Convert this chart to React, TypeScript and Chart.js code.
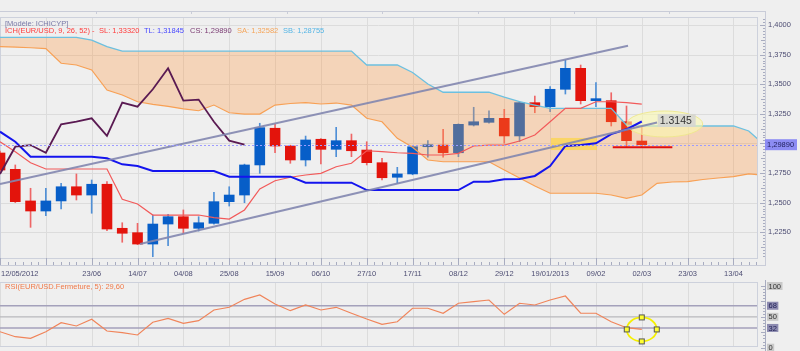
import React, { useEffect, useRef } from 'react';
import { Chart, registerables } from 'chart.js';

Chart.register(...registerables);

// ---------- DATA ----------
const weekTicks = [0, 3, 6, 9, 12, 15, 18, 21, 24, 27, 30, 33, 36, 39, 42, 45, 48];
const weekTickLabels = ['12/05/2012', '', '23/06', '14/07', '04/08', '25/08', '15/09', '06/10', '27/10', '17/11', '08/12', '29/12', '19/01/2013', '09/02', '02/03', '23/03', '13/04'];

const priceGridValues = [1.225, 1.25, 1.275, 1.3, 1.325, 1.35, 1.375, 1.4];
const priceLabelValues = [1.4, 1.375, 1.35, 1.325, 1.275, 1.25, 1.225];
const priceLabels = ['1,4000', '1,3750', '1,3500', '1,3250', '1,2750', '1,2500', '1,2250'];

const opens = [1.2919, 1.2781, 1.2514, 1.2429, 1.2514, 1.2634, 1.2564, 1.2655, 1.2283, 1.2246, 1.2150, 1.2319, 1.2381, 1.2283, 1.2325, 1.2508, 1.2564, 1.2818, 1.3128, 1.2978, 1.2860, 1.3035, 1.2950, 1.3023, 1.2944, 1.2837, 1.2714, 1.2742, 1.2972, 1.2986, 1.2921, 1.3155, 1.3178, 1.3212, 1.3063, 1.3344, 1.3310, 1.3457, 1.3634, 1.3361, 1.3361, 1.3183, 1.3020];
const highs = [1.2935, 1.2818, 1.2621, 1.2621, 1.2663, 1.2742, 1.2691, 1.2677, 1.2330, 1.2325, 1.2395, 1.2401, 1.2438, 1.2381, 1.2587, 1.2634, 1.2825, 1.3170, 1.3164, 1.2985, 1.3062, 1.3040, 1.3136, 1.3079, 1.3014, 1.2874, 1.2798, 1.2980, 1.3023, 1.3119, 1.3165, 1.3305, 1.3276, 1.3288, 1.3352, 1.3400, 1.3479, 1.3704, 1.3662, 1.3513, 1.3428, 1.3316, 1.3136];
const lows = [1.2765, 1.2500, 1.2291, 1.2389, 1.2446, 1.2522, 1.2410, 1.2263, 1.2165, 1.2145, 1.2043, 1.2136, 1.2241, 1.2260, 1.2317, 1.2471, 1.2499, 1.2747, 1.2921, 1.2832, 1.2809, 1.2826, 1.2888, 1.2888, 1.2818, 1.2691, 1.2663, 1.2735, 1.2883, 1.2883, 1.2888, 1.3147, 1.3170, 1.3001, 1.3015, 1.3259, 1.3268, 1.3417, 1.3333, 1.3310, 1.3147, 1.2967, 1.2967];
const closes = [1.2775, 1.2508, 1.2429, 1.2514, 1.2634, 1.2564, 1.2655, 1.2277, 1.2241, 1.2150, 1.2319, 1.2381, 1.2283, 1.2330, 1.2508, 1.2564, 1.2818, 1.3133, 1.2978, 1.2860, 1.3029, 1.2950, 1.3023, 1.2938, 1.2837, 1.2710, 1.2742, 1.2972, 1.2986, 1.2921, 1.3161, 1.3183, 1.3212, 1.3063, 1.3344, 1.3310, 1.3457, 1.3634, 1.3361, 1.3370, 1.3183, 1.3023, 1.2989];

// Standard line (SL, red) and turning line (TL, blue)
const standardLine = [1.3014, 1.2930, 1.2837, 1.2784, 1.2784, 1.2784, 1.2784, 1.2784, 1.2528, 1.2488, 1.2395, 1.2395, 1.2395, 1.2395, 1.2373, 1.2361, 1.2438, 1.2615, 1.2685, 1.2714, 1.2733, 1.2747, 1.2803, 1.2832, 1.2938, 1.2930, 1.2921, 1.2916, 1.2902, 1.2902, 1.2916, 1.2978, 1.2986, 1.2986, 1.3020, 1.3071, 1.3183, 1.3296, 1.3296, 1.3352, 1.3352, 1.3344, 1.3332];
const turningLine = [1.3099, 1.3014, 1.2888, 1.2888, 1.2888, 1.2888, 1.2888, 1.2874, 1.2823, 1.2809, 1.2767, 1.2767, 1.2767, 1.2767, 1.2767, 1.2719, 1.2719, 1.2719, 1.2719, 1.2719, 1.2668, 1.2668, 1.2668, 1.2668, 1.2606, 1.2606, 1.2606, 1.2606, 1.2606, 1.2606, 1.2606, 1.2677, 1.2677, 1.2697, 1.2700, 1.2725, 1.2809, 1.2978, 1.2986, 1.3001, 1.3079, 1.3119, 1.3185];

// Senkou spans (cloud), plotted 26 weeks ahead
const senkouA = [1.3817, 1.3814, 1.3808, 1.3800, 1.3677, 1.3662, 1.3620, 1.3451, 1.3409, 1.3352, 1.3330, 1.3312, 1.3291, 1.3276, 1.3324, 1.3259, 1.3248, 1.3248, 1.3324, 1.3337, 1.3344, 1.3333, 1.3341, 1.3324, 1.3212, 1.3183, 1.3043, 1.2967, 1.2860, 1.2845, 1.2845, 1.2845, 1.2845, 1.2775, 1.2708, 1.2640, 1.2579, 1.2579, 1.2579, 1.2579, 1.2564, 1.2536, 1.2564, 1.2663, 1.2674, 1.2677, 1.2695, 1.2708, 1.2719, 1.2742, 1.2733];
const senkouB = [1.3896, 1.3896, 1.3896, 1.3896, 1.3896, 1.3896, 1.3873, 1.3818, 1.3780, 1.3780, 1.3780, 1.3780, 1.3780, 1.3780, 1.3780, 1.3780, 1.3780, 1.3780, 1.3780, 1.3780, 1.3780, 1.3780, 1.3780, 1.3780, 1.3662, 1.3662, 1.3662, 1.3599, 1.3502, 1.3432, 1.3432, 1.3432, 1.3432, 1.3390, 1.3352, 1.3324, 1.3296, 1.3296, 1.3296, 1.3296, 1.3296, 1.3155, 1.3147, 1.3147, 1.3147, 1.3147, 1.3147, 1.3147, 1.3147, 1.3105, 1.2990];

// Lagging span: close shifted 26 weeks back
const chikouShift = 26;

const rsiValues = [25.9, 17.8, 15.2, 25.9, 40.5, 35.2, 46.0, 27.1, 24.3, 20.6, 41.2, 47.6, 39.5, 43.8, 61.1, 65.5, 78.4, 85.4, 70.8, 60.0, 69.2, 61.1, 65.5, 55.8, 46.5, 37.9, 42.1, 63.9, 63.9, 55.8, 72.0, 74.6, 77.3, 54.1, 72.0, 69.2, 77.3, 83.8, 55.8, 55.8, 42.1, 32.4, 29.6];
const rsiLevels = [68, 50, 32];
const rsiLabelValues = [100, 68, 50, 32, 0];

// Drawn objects
const trendUpper = [{ x: 0, y: 1.2657 }, { x: 41.1, y: 1.3825 }];
const trendLower = [{ x: 9.16, y: 1.2150 }, { x: 43.0, y: 1.3176 }];
const supportLine = [{ x: 40.1, y: 1.2967 }, { x: 44.0, y: 1.2967 }];
const zoneWeeks = [36.06, 39.07];
const zonePrices = [1.2944, 1.3046];
const targetPoint = { x: 43.5, y: 1.3164 };
const targetText = '1.3145';
const rsiMarkPoint = { x: 42, y: 29.6 };
const lastClose = 1.2989;
const lastCloseText = '1,29890';

const legendTitle = '[Modèle: ICHICYP]';
const legendItems = [
  { text: 'ICH(EUR/USD, 9, 26, 52) -', color: '#ff3b3b', x: 5 },
  { text: 'SL: 1,33320', color: '#ff3b3b', x: 99 },
  { text: 'TL: 1,31845', color: '#4848ff', x: 144 },
  { text: 'CS: 1,29890', color: '#7a3a72', x: 190 },
  { text: 'SA: 1,32582', color: '#f5a55a', x: 237 },
  { text: 'SB: 1,28755', color: '#55b5e5', x: 283 },
];
const rsiLegend = 'RSI(EUR/USD.Fermeture, 5): 29,60';

const X_MAX = 49.54;
const FONT = '"Liberation Sans", Arial, sans-serif';
const AXIS_TEXT = '#4d4d73';

// ---------- helpers ----------
function hline(ctx: CanvasRenderingContext2D, x0: number, x1: number, y: number) {
  ctx.beginPath(); ctx.moveTo(x0, y); ctx.lineTo(x1, y); ctx.stroke();
}
function vline(ctx: CanvasRenderingContext2D, x: number, y0: number, y1: number) {
  ctx.beginPath(); ctx.moveTo(x, y0); ctx.lineTo(x, y1); ctx.stroke();
}

const mainDecor = {
  id: 'mainDecor',
  beforeDraw(chart: any) {
    const { ctx, chartArea: a } = chart;
    const xs = chart.scales.x, ys = chart.scales.y;
    ctx.save();
    ctx.fillStyle = '#efefef';
    ctx.fillRect(0, 0, chart.width, chart.height);
    // grid
    ctx.strokeStyle = '#dcdcdc';
    ctx.lineWidth = 1;
    priceGridValues.forEach((p) => hline(ctx, a.left, a.right, Math.round(ys.getPixelForValue(p)) + 0.5));
    weekTicks.forEach((w) => vline(ctx, Math.round(xs.getPixelForValue(w)) + 0.5, a.top, a.bottom));
    // frames
    ctx.strokeStyle = '#c9ccd8';
    hline(ctx, 0, 766, 11.5);
    for (let k = 1; k * 95.6 < 766; k++) vline(ctx, Math.round(k * 95.6) + 0.5, 11, 14);
    vline(ctx, 765.5, 11, 266);
    hline(ctx, 0, 766, 265.5);
    ctx.strokeStyle = '#cdd1dc';
    ctx.strokeRect(a.left + 0.5, a.top + 0.5, a.right - a.left, a.bottom - a.top);
    ctx.restore();
  },
  afterDatasetDraw(chart: any, args: any) {
    if (chart.data.datasets[args.index].label !== 'SB') return;
    const { ctx } = chart;
    const xs = chart.scales.x, ys = chart.scales.y;
    ctx.save();
    // yellow zone
    const x0 = xs.getPixelForValue(zoneWeeks[0]), x1 = xs.getPixelForValue(zoneWeeks[1]);
    const y0 = ys.getPixelForValue(zonePrices[1]), y1 = ys.getPixelForValue(zonePrices[0]);
    ctx.fillStyle = 'rgba(252,214,70,0.72)';
    ctx.fillRect(x0, y0, x1 - x0, y1 - y0);
    // ellipse
    const cx = xs.getPixelForValue(targetPoint.x), cy = ys.getPixelForValue(targetPoint.y);
    ctx.beginPath();
    ctx.ellipse(cx, cy, 38, 13, 0, 0, Math.PI * 2);
    ctx.fillStyle = 'rgba(250,248,175,0.6)';
    ctx.fill();
    ctx.strokeStyle = 'rgba(238,232,140,0.9)';
    ctx.lineWidth = 1;
    ctx.stroke();
    ctx.restore();
  },
  afterDatasetsDraw(chart: any) {
    const { ctx, chartArea: a } = chart;
    const ys = chart.scales.y;
    ctx.save();
    ctx.strokeStyle = '#9c9cff';
    ctx.lineWidth = 1;
    ctx.setLineDash([2, 2]);
    hline(ctx, a.left, a.right, Math.round(ys.getPixelForValue(lastClose)) + 0.5);
    ctx.restore();
  },
  afterDraw(chart: any) {
    const { ctx, chartArea: a } = chart;
    const xs = chart.scales.x, ys = chart.scales.y;
    ctx.save();
    // right axis ticks
    ctx.strokeStyle = '#a8acc0';
    ctx.lineWidth = 1;
    for (let k = 0; ; k++) {
      const p = 1.205 + k * 0.0025;
      if (p > 1.407) break;
      const py = Math.round(ys.getPixelForValue(p)) + 0.5;
      const isMajor = Math.abs((p * 1000) % 25) < 0.01 || Math.abs((p * 1000) % 25 - 25) < 0.01;
      const isMid = Math.abs((p * 10000) % 125) < 0.1 || Math.abs((p * 10000) % 125 - 125) < 0.1;
      const len = isMajor ? 5 : isMid ? 4 : 2;
      hline(ctx, 765 - len, 765, py);
    }
    // x ruler ticks
    for (let k = 0; k * 0.5 <= X_MAX; k++) {
      const px = Math.round(xs.getPixelForValue(k * 0.5)) + 0.5;
      vline(ctx, px, 262, 265);
    }
    weekTicks.forEach((w) => vline(ctx, Math.round(xs.getPixelForValue(w)) + 0.5, a.bottom, 265));
    // price labels
    ctx.font = `7.5px ${FONT}`;
    ctx.fillStyle = AXIS_TEXT;
    ctx.textBaseline = 'middle';
    ctx.textAlign = 'left';
    priceLabelValues.forEach((p, i) => ctx.fillText(priceLabels[i], 768, ys.getPixelForValue(p)));
    // last price box
    const ly = ys.getPixelForValue(lastClose);
    ctx.fillStyle = '#8c8cf3';
    ctx.fillRect(765, ly - 5.5, 32, 11);
    ctx.fillStyle = '#1e1e5a';
    ctx.fillText(lastCloseText, 767, ly + 0.5);
    // x labels
    ctx.fillStyle = AXIS_TEXT;
    weekTicks.forEach((w, i) => {
      const t = weekTickLabels[i];
      if (!t) return;
      const px = xs.getPixelForValue(w);
      if (i === 0) { ctx.textAlign = 'left'; ctx.fillText(t, 1, 274); }
      else { ctx.textAlign = 'center'; ctx.fillText(t, px, 274); }
    });
    // legend
    ctx.textAlign = 'left';
    ctx.fillStyle = '#7a7aa8';
    ctx.fillText(legendTitle, 5, 23.5);
    legendItems.forEach((it) => { ctx.fillStyle = it.color; ctx.fillText(it.text, it.x, 31); });
    // target label
    const cx = xs.getPixelForValue(targetPoint.x), cy = ys.getPixelForValue(targetPoint.y);
    ctx.fillStyle = 'rgba(214,214,210,0.9)';
    ctx.fillRect(cx - 7, cy - 10, 38, 13);
    ctx.font = `10.5px ${FONT}`;
    ctx.fillStyle = '#333333';
    ctx.textAlign = 'left';
    ctx.fillText(targetText, cx - 5, cy - 3.2);
    ctx.restore();
  },
};

const rsiDecor = {
  id: 'rsiDecor',
  beforeDraw(chart: any) {
    const { ctx, chartArea: a } = chart;
    const xs = chart.scales.x, ys = chart.scales.y;
    ctx.save();
    ctx.fillStyle = '#efefef';
    ctx.fillRect(0, 0, chart.width, chart.height);
    ctx.strokeStyle = '#dcdcdc';
    ctx.lineWidth = 1;
    weekTicks.forEach((w) => vline(ctx, Math.round(xs.getPixelForValue(w)) + 0.5, 3, 67));
    ctx.strokeStyle = '#cdd1dc';
    hline(ctx, 0, 758, 2.5);
    hline(ctx, 0, 758, 66.5);
    vline(ctx, 757.5, 2.5, 66.5);
    rsiLevels.forEach((v) => {
      ctx.strokeStyle = v === 50 ? '#b9b9bd' : '#a4a1bb';
      ctx.lineWidth = v === 50 ? 1.3 : 1.6;
      hline(ctx, a.left, 757, ys.getPixelForValue(v));
    });
    ctx.restore();
  },
  afterDraw(chart: any) {
    const { ctx } = chart;
    const xs = chart.scales.x, ys = chart.scales.y;
    ctx.save();
    ctx.strokeStyle = '#a8acc0';
    ctx.lineWidth = 1;
    vline(ctx, 765.5, 0, 71);
    for (let v = 0; v <= 100; v += 5) {
      const py = Math.round(ys.getPixelForValue(v)) + 0.5;
      hline(ctx, v % 25 === 0 ? 761 : 763, 765, py);
    }
    ctx.font = `7.5px ${FONT}`;
    ctx.textBaseline = 'middle';
    ctx.textAlign = 'left';
    rsiLabelValues.forEach((v) => {
      const py = ys.getPixelForValue(v);
      const t = String(v);
      const w = ctx.measureText(t).width + 3;
      const level = v === 68 || v === 32;
      ctx.fillStyle = level ? '#8d8bb0' : '#c9c9c9';
      ctx.fillRect(767, py - 4, w, 8);
      ctx.fillStyle = level ? '#1f1f55' : '#333333';
      ctx.fillText(t, 768.5, py + 0.5);
    });
    ctx.fillStyle = '#f07a4a';
    ctx.fillText(rsiLegend, 5, 7);
    // ellipse marker
    const cx = xs.getPixelForValue(rsiMarkPoint.x), cy = ys.getPixelForValue(rsiMarkPoint.y);
    ctx.beginPath();
    ctx.ellipse(cx, cy, 15, 12, 0, 0, Math.PI * 2);
    ctx.strokeStyle = '#f5f000';
    ctx.lineWidth = 1.8;
    ctx.stroke();
    const handles = [[cx, cy - 12], [cx, cy + 12], [cx - 15, cy], [cx + 15, cy]];
    ctx.lineWidth = 1;
    handles.forEach(([hx, hy]) => {
      ctx.fillStyle = '#ffff30';
      ctx.fillRect(hx - 2.5, hy - 2.5, 5, 5);
      ctx.strokeStyle = '#555555';
      ctx.strokeRect(hx - 2.5, hy - 2.5, 5, 5);
    });
    ctx.restore();
  },
};

function MainChart() {
  const ref = useRef<HTMLCanvasElement>(null);
  useEffect(() => {
    const idx = opens.map((_, i) => i);
    const up = (i: number) => closes[i] >= opens[i];
    const lineDs = (label: string, vals: number[], color: string, width: number, order: number, extra: any = {}) => ({
      type: 'line', label, data: vals.map((v, i) => ({ x: i, y: v })), borderColor: color, borderWidth: width,
      pointRadius: 0, tension: 0, fill: false, order, clip: 0, ...extra,
    });
    const chart = new Chart(ref.current as HTMLCanvasElement, {
      type: 'bar',
      data: {
        datasets: [
          {
            type: 'bar', label: 'wicks', data: idx.map((i) => ({ x: i, y: [lows[i], highs[i]] })),
            backgroundColor: idx.map((i) => (up(i) ? '#4f8fd6' : '#ee6666')), barThickness: 1, grouped: false,
            borderWidth: 0, order: 20, clip: 0,
          },
          {
            type: 'bar', label: 'bodies', data: idx.map((i) => ({ x: i, y: [opens[i], closes[i]] })),
            backgroundColor: idx.map((i) => (up(i) ? '#075ec8' : '#e3140c')), barThickness: 10, grouped: false,
            minBarLength: 2, borderWidth: 0, order: 19, clip: 0,
          },
          lineDs('SA', senkouA, '#f7a35a', 1.2, 18),
          lineDs('SB', senkouB, '#6cc0e0', 1.3, 17, { fill: { target: 2 }, backgroundColor: 'rgba(255,150,60,0.3)' }),
          lineDs('SL', standardLine, '#f25a5a', 1.2, 16),
          lineDs('TL', turningLine, '#1414ee', 2, 15),
          lineDs('CS', closes.slice(chikouShift), '#5a1a52', 1.8, 14),
          { type: 'line', label: 'trendUp', data: trendUpper, borderColor: 'rgba(130,134,175,0.9)', borderWidth: 2, pointRadius: 0, fill: false, order: 13, clip: 0 },
          { type: 'line', label: 'trendLow', data: trendLower, borderColor: 'rgba(130,134,175,0.9)', borderWidth: 2, pointRadius: 0, fill: false, order: 12, clip: 0 },
          { type: 'line', label: 'support', data: supportLine, borderColor: '#e01010', borderWidth: 2, pointRadius: 0, fill: false, order: 11, clip: 0 },
        ] as any,
      },
      options: {
        responsive: false,
        animation: false,
        devicePixelRatio: 1,
        events: [],
        layout: { padding: { left: 0, right: 43, top: 17, bottom: 22 } },
        plugins: { legend: { display: false }, tooltip: { enabled: false } },
        scales: {
          x: { type: 'linear', min: 0, max: X_MAX, display: false, offset: false },
          y: { type: 'linear', min: 1.20321, max: 1.40676, display: false },
        },
      } as any,
      plugins: [mainDecor],
    } as any);
    return () => chart.destroy();
  }, []);
  return <canvas ref={ref} width={800} height={280} style={{ position: 'absolute', left: 0, top: 0, width: 800, height: 280 }} />;
}

function RsiChart() {
  const ref = useRef<HTMLCanvasElement>(null);
  useEffect(() => {
    const chart = new Chart(ref.current as HTMLCanvasElement, {
      type: 'line',
      data: {
        datasets: [
          {
            label: 'RSI', data: rsiValues.map((v, i) => ({ x: i, y: v })), borderColor: '#f0845a', borderWidth: 1.2,
            pointRadius: 0, tension: 0, fill: false, clip: 0,
          },
        ],
      },
      options: {
        responsive: false,
        animation: false,
        devicePixelRatio: 1,
        events: [],
        layout: { padding: { left: 0, right: 43, top: 3, bottom: 4 } },
        plugins: { legend: { display: false }, tooltip: { enabled: false } },
        scales: {
          x: { type: 'linear', min: 0, max: X_MAX, display: false },
          y: { type: 'linear', min: 1.13, max: 104.86, display: false },
        },
      } as any,
      plugins: [rsiDecor],
    } as any);
    return () => chart.destroy();
  }, []);
  return <canvas ref={ref} width={800} height={71} style={{ position: 'absolute', left: 0, top: 280, width: 800, height: 71 }} />;
}

export default function App() {
  return (
    <div style={{ position: 'fixed', left: 0, top: 0, width: 800, height: 351, background: '#efefef', overflow: 'hidden' }}>
      <MainChart />
      <RsiChart />
    </div>
  );
}
